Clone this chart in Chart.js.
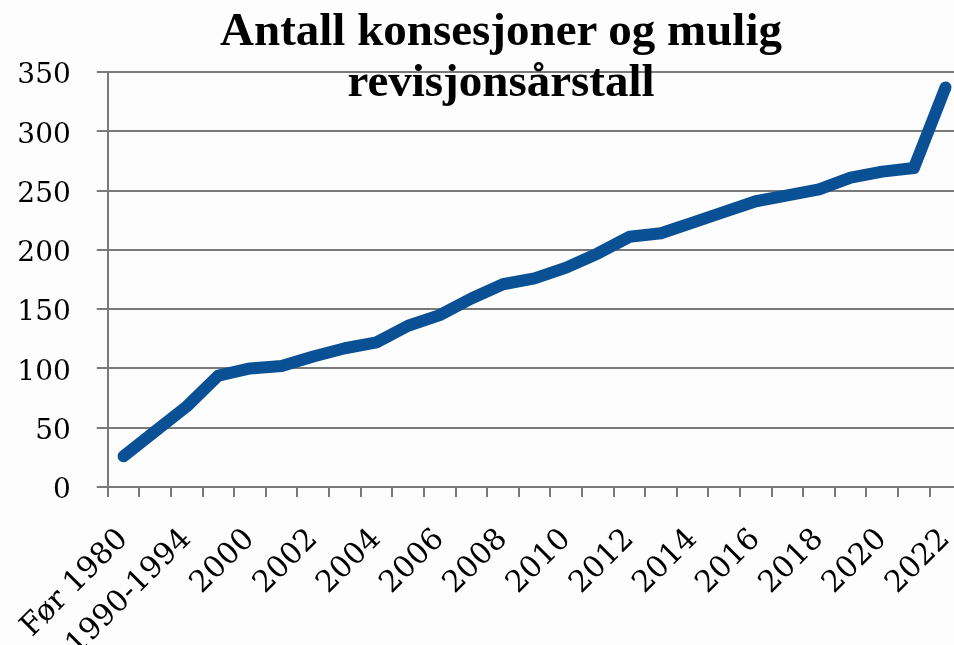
<!DOCTYPE html>
<html>
<head>
<meta charset="utf-8">
<script src="https://cdn.jsdelivr.net/npm/chart.js@4.4.1/dist/chart.umd.min.js"></script>
<style>
  html, body { margin: 0; padding: 0; background: #fdfdfd; overflow: hidden; }
  #wrap { position: relative; width: 954px; height: 645px; overflow: hidden; }
  #chart { position: absolute; left: 0; top: 0; }
  #title {
    position: absolute; left: 0; top: 4px; width: 1002px;
    text-align: center; font-family: "Liberation Serif", serif; font-weight: bold;
    font-size: 47px; line-height: 51px; color: #000; pointer-events: none;
  }
</style>
</head>
<body>
<div id="wrap">
  <canvas id="chart" width="996" height="645"></canvas>
  <div id="title">Antall konsesjoner og mulig<br>revisjonsårstall</div>
</div>
<script>
// categories on the x axis
const categories = [
  'Før 1980', '1980-1989', '1990-1994', '1995-1999',
  '2000', '2001', '2002', '2003', '2004', '2005', '2006', '2007', '2008', '2009',
  '2010', '2011', '2012', '2013', '2014', '2015', '2016', '2017', '2018', '2019',
  '2020', '2021', '2022'
];

// number of concessions
const konsesjoner = [
  26, 47, 68, 94, 100, 102, 110, 117, 122, 136, 145, 159, 171, 176,
  185, 197, 211, 214, 223, 232, 241, 246, 251, 261, 266, 269, 337
];

const yTicks = [0, 50, 100, 150, 200, 250, 300, 350];

const axisColor = '#7a7a7a';

new Chart(document.getElementById('chart'), {
  type: 'line',
  data: {
    labels: categories,
    datasets: [{
      data: konsesjoner,
      borderColor: '#0a5094',
      borderWidth: 12,
      borderCapStyle: 'round',
      borderJoinStyle: 'round',
      pointRadius: 0,
      tension: 0,
      fill: false
    }]
  },
  options: {
    responsive: false,
    animation: false,
    layout: { padding: { top: 72, right: 6, left: 0, bottom: 0 } },
    plugins: { legend: { display: false }, title: { display: false }, tooltip: { enabled: false } },
    scales: {
      x: {
        offset: true,
        grid: { offset: true, drawOnChartArea: false, drawTicks: true, tickLength: 10, color: axisColor, lineWidth: 2 },
        border: { color: axisColor, width: 2 },
        ticks: {
          autoSkip: false,
          minRotation: 45,
          maxRotation: 45,
          padding: 25,
          color: '#000',
          font: { family: '"DejaVu Serif", serif', size: 30 },
          callback: function (value, index) {
            return index % 2 === 0 ? this.getLabelForValue(value) : '';
          }
        },
        afterFit: s => { s.height = 158; }
      },
      y: {
        min: 0,
        max: 350,
        afterBuildTicks: s => { s.ticks = yTicks.map(v => ({ value: v })); },
        grid: { color: axisColor, lineWidth: 2, tickLength: 11 },
        border: { color: axisColor, width: 2 },
        ticks: { padding: 26, labelOffset: 4, color: '#000', font: { family: '"DejaVu Serif", serif', size: 28 } },
        afterFit: s => { s.width = 103; }
      }
    }
  }
});
</script>
</body>
</html>
